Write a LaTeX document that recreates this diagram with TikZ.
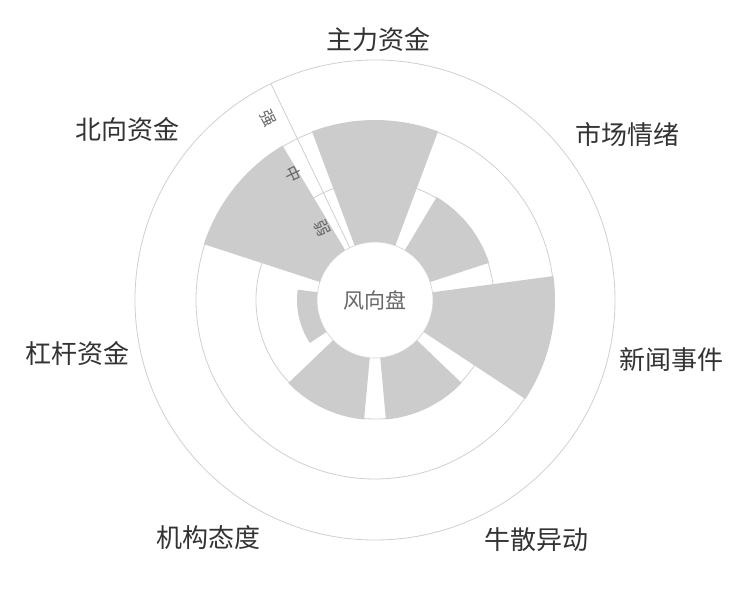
\documentclass[tikz,border=0pt]{standalone}
\usepackage{fontspec}
\newfontfamily\cjk{Noto Sans CJK SC}
\definecolor{barc}{HTML}{CCCCCC}
\definecolor{gridc}{HTML}{D0D0D0}
\definecolor{labc}{HTML}{333333}
\definecolor{axc}{HTML}{666666}
\begin{document}
\begin{tikzpicture}[x=1pt,y=1pt,
  grid/.style={draw=gridc,line width=0.8pt},
  cat/.style={text=labc,font=\cjk\fontsize{26}{30}\selectfont,inner sep=0},
  axlab/.style={text=axc,font=\cjk\fontsize{16}{18}\selectfont,inner sep=0,rotate=-64.3},
  bar/.style={fill=barc}]
\useasboundingbox (0,0) rectangle (750,600);
\fill[white] (0,0) rectangle (750,600);
\begin{scope}[shift={(375,300)}]
  \draw[grid] (0,0) circle[radius=240];
  \draw[grid] (0,0) circle[radius=179];
  \draw[grid] (0,0) circle[radius=119];
  \draw[grid] (115.7:58) -- (115.7:240);
  % bars: center angles 90 - k*51.43, width 41
  \foreach \c/\r in {90/180, 38.57/120, -12.86/180, -64.29/120, -115.71/120, -167.14/78, 141.43/180}{
    \fill[bar] (\c-20.5:58) arc[start angle=\c-20.5,end angle=\c+20.5,radius=58]
      -- (\c+20.5:\r) arc[start angle=\c+20.5,end angle=\c-20.5,radius=\r] -- cycle;
  }
  \filldraw[fill=white,draw=gridc,line width=0.6pt] (0,0) circle[radius=58];
  \node[text=axc,font=\cjk\fontsize{21}{24}\selectfont] (center) at (0,0) {风向盘};
  \node[axlab] (qiang) at (120.5:211) {强};
  \node[axlab] (zhong) at (123:150) {中};
  \node[axlab] (ruo) at (126:89) {弱};
\end{scope}
\node[cat] (l1) at (378,560) {主力资金};
\node[cat] (l2) at (627,465) {市场情绪};
\node[cat] (l3) at (671,240) {新闻事件};
\node[cat] (l4) at (536,60) {牛散异动};
\node[cat] (l5) at (208,62) {机构态度};
\node[cat] (l6) at (77,246) {杠杆资金};
\node[cat] (l7) at (127,470) {北向资金};
\end{tikzpicture}
\end{document}
